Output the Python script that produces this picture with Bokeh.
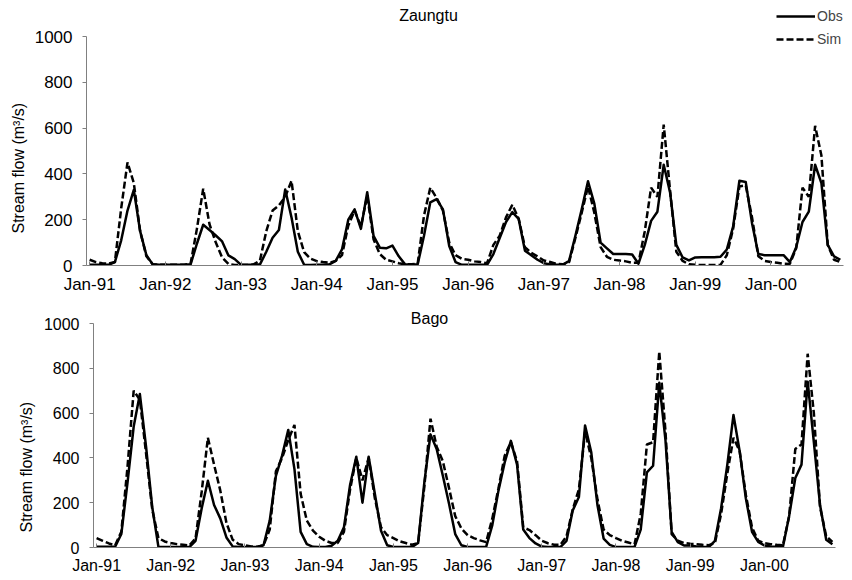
from bokeh.plotting import figure
from bokeh.models import FixedTicker, Legend, LegendItem, Label, Range1d, Title
from bokeh.embed import file_html
from bokeh.resources import INLINE

FONT = "Liberation Sans"

tick_labels = ["Jan-91", "Jan-92", "Jan-93", "Jan-94", "Jan-95",
               "Jan-96", "Jan-97", "Jan-98", "Jan-99", "Jan-00"]
y_ticks = [0, 200, 400, 600, 800, 1000]

# Monthly stream flow (m3/s), Jan-1991 .. Dec-2000
obs_zaungtu = [
    3, 3, 3, 3, 15, 110, 240, 330, 150, 45, 5, 3,
    3, 3, 3, 3, 5, 95, 178, 155, 131, 105, 44, 28,
    3, 3, 3, 5, 60, 121, 155, 332, 210, 60, 3, 2,
    3, 3, 5, 20, 70, 200, 245, 160, 320, 130, 78, 75,
    87, 40, 5, 3, 5, 130, 276, 290, 245, 85, 15, 3,
    3, 3, 3, 3, 50, 120, 190, 233, 204, 65, 45, 25,
    10, 5, 3, 3, 20, 130, 245, 368, 270, 100, 75, 50,
    50, 50, 48, 8, 90, 195, 235, 440, 320, 90, 35, 22,
    35, 36, 36, 36, 38, 70, 170, 370, 365, 185, 50, 45,
    45, 45, 45, 15, 80, 190, 235, 440, 360, 90, 40, 25,
]
sim_zaungtu = [
    25, 15, 10, 8, 15, 250, 450, 360, 150, 40, 5, 3,
    3, 3, 3, 3, 8, 160, 335, 180, 100, 35, 7, 2,
    2, 2, 5, 22, 150, 240, 262, 300, 370, 150, 58, 30,
    19, 15, 12, 20, 45, 175, 240, 170, 305, 115, 50, 25,
    18, 10, 5, 5, 8, 218, 340, 295, 240, 100, 45, 29,
    25, 18, 15, 10, 90, 130, 210, 265, 205, 80, 55, 40,
    22, 15, 7, 5, 15, 120, 230, 345, 230, 80, 38, 25,
    22, 18, 12, 12, 150, 340, 300, 615, 330, 60, 20, 5,
    3, 2, 2, 2, 3, 45, 160, 345, 350, 210, 40, 20,
    15, 12, 8, 7, 75, 340, 300, 610, 480, 90, 25, 15,
]
obs_bago = [
    3, 3, 3, 3, 60, 290, 540, 685, 450, 180, 3, 2,
    2, 2, 2, 2, 30, 175, 298, 190, 130, 45, 5, 2,
    2, 2, 2, 10, 120, 320, 410, 525, 350, 70, 15, 3,
    2, 2, 8, 30, 90, 280, 405, 200, 405, 240, 75, 10,
    2, 2, 2, 2, 20, 290, 505, 440, 320, 195, 60, 10,
    2, 2, 2, 3, 100, 255, 380, 476, 370, 80, 42, 18,
    4, 2, 2, 2, 30, 165, 225, 545, 425, 190, 40, 12,
    2, 2, 2, 3, 80, 335, 365, 735, 480, 70, 24, 9,
    9, 5, 3, 2, 30, 175, 369, 592, 430, 220, 70, 25,
    9, 5, 3, 3, 140, 310, 370, 740, 470, 190, 35, 15,
]
sim_bago = [
    42, 30, 18, 10, 70, 360, 700, 660, 420, 170, 42, 27,
    20, 15, 12, 9, 40, 250, 490, 370, 255, 110, 35, 15,
    10, 5, 3, 10, 80, 340, 400, 480, 547, 240, 120, 75,
    48, 30, 20, 20, 70, 260, 400, 300, 400, 220, 90, 55,
    42, 28, 20, 12, 20, 270, 575, 450, 385, 265, 140, 85,
    55, 42, 32, 24, 130, 265, 410, 470, 385, 90, 78, 55,
    30, 19, 12, 12, 50, 170, 260, 517, 400, 215, 80, 55,
    42, 30, 22, 14, 150, 460, 470, 875, 520, 60, 30, 20,
    17, 15, 12, 10, 20, 150, 330, 490, 430, 235, 90, 30,
    19, 15, 12, 10, 140, 440, 460, 865, 600, 180, 50, 25,
]

x = [i + 0.5 for i in range(len(obs_zaungtu))]
tick_pos = [12 * k + 0.5 for k in range(len(tick_labels))]


def make_panel(obs, sim, height, top, bottom, ymax, ax_left_px, ax_right_px,
               frame_right_px, tick_font, lab_offset, lab_standoff):
    # months 0..120 span [ax_left_px, ax_right_px]; frame may extend further right
    scale = (ax_right_px - ax_left_px) / 120.0
    x1 = (frame_right_px - ax_left_px) / scale
    p = figure(width=852, height=height, output_backend="svg", toolbar_location=None,
               title=None, x_range=Range1d(0, x1), y_range=Range1d(0, ymax),
               min_border_left=ax_left_px, min_border_right=852 - frame_right_px,
               min_border_top=top, min_border_bottom=bottom)
    p.outline_line_color = None
    p.xgrid.visible = False
    p.ygrid.visible = False
    p.background_fill_color = "white"
    p.border_fill_color = "white"

    p.xaxis.ticker = FixedTicker(ticks=tick_pos)
    p.xaxis.major_label_overrides = {t: l for t, l in zip(tick_pos, tick_labels)}
    p.xaxis.bounds = (0, 120)
    p.yaxis.ticker = FixedTicker(ticks=y_ticks)
    p.yaxis.bounds = (0, 1000)
    for ax in (p.xaxis, p.yaxis):
        ax.axis_line_color = "#808080"
        ax.axis_line_width = 1
        ax.major_tick_line_color = "#808080"
        ax.minor_tick_line_color = None
        ax.major_label_text_font = FONT
        ax.major_label_text_color = "black"
        ax.major_label_text_font_size = tick_font
    p.xaxis.major_tick_in = 4
    p.xaxis.major_tick_out = 0
    p.yaxis.major_tick_in = 0
    p.yaxis.major_tick_out = 4
    p.xaxis.major_label_standoff = 9
    p.yaxis.major_label_standoff = 10

    p.add_layout(Title(text="Stream flow (m³/s)", align="left", offset=lab_offset,
                       text_font=FONT, text_font_size="16px", text_font_style="normal",
                       text_color="black", standoff=lab_standoff), "left")

    r_obs = p.line(x, obs, line_color="black", line_width=2.5, line_join="round")
    r_sim = p.line(x, sim, line_color="black", line_width=2.5, line_dash="7 3")
    return p, r_obs, r_sim


top, t_obs, t_sim = make_panel(obs_zaungtu, sim_zaungtu, 296, 2, 31,
                               1000 * 263 / 229, 86, 843, 852, "17px", 32, 9)
bot, b_obs, b_sim = make_panel(obs_bago, sim_bago, 284, 4, 33,
                               1000 * 247 / 224, 93, 835, 840, "16px", 15, 12)

top.add_layout(Label(x=342, y=250, x_units="screen", y_units="screen", text="Zaungtu",
                     text_font=FONT, text_font_size="16px", text_align="center",
                     text_baseline="middle", text_color="black"))
bot.add_layout(Label(x=336, y=229, x_units="screen", y_units="screen", text="Bago",
                     text_font=FONT, text_font_size="16px", text_align="center",
                     text_baseline="middle", text_color="black"))

legend = Legend(items=[LegendItem(label="Obs", renderers=[t_obs]),
                       LegendItem(label="Sim", renderers=[t_sim])],
                location=(690, 216), orientation="vertical",
                glyph_width=39, glyph_height=20, label_height=20, label_standoff=2,
                spacing=3, padding=0, margin=0,
                label_text_font=FONT, label_text_font_size="14px",
                border_line_color=None, background_fill_alpha=0)
top.add_layout(legend, "center")

open("out.html", "w").write(file_html([top, bot], INLINE))
